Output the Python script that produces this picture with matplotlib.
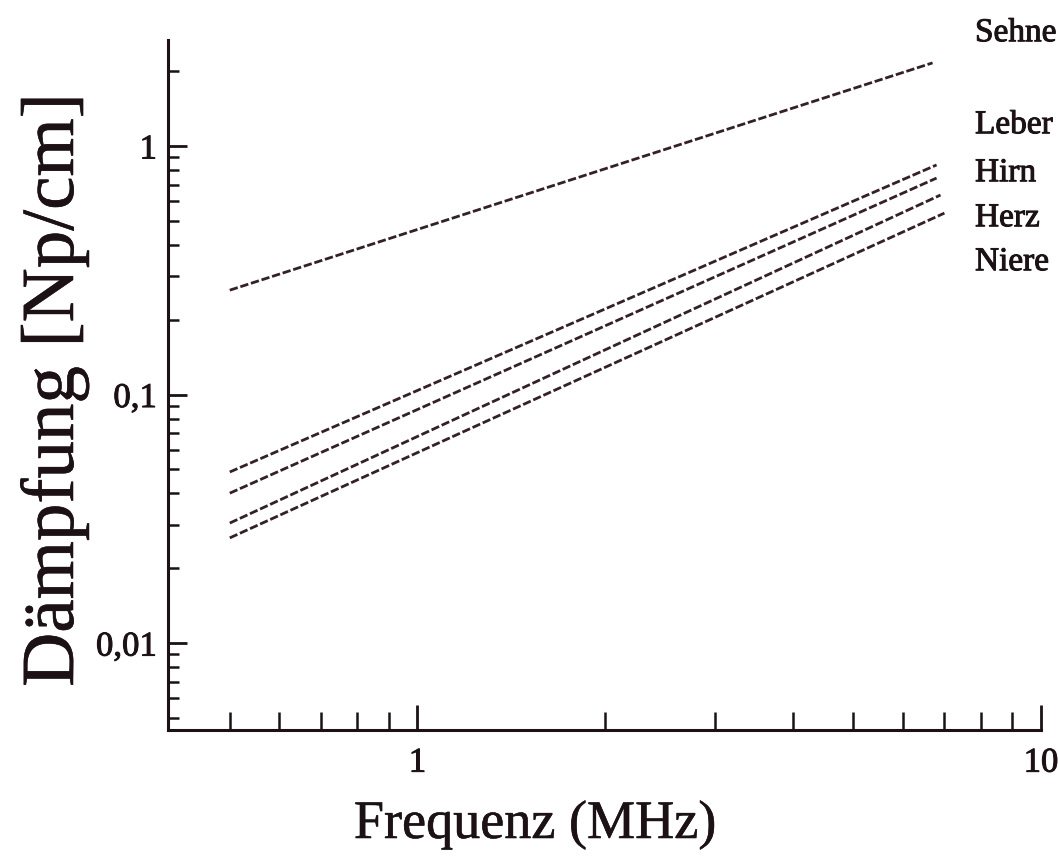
import matplotlib
matplotlib.use("Agg")
import matplotlib.pyplot as plt
import matplotlib.patheffects as pe
from matplotlib.ticker import FixedLocator, NullFormatter

plt.rcParams['font.family'] = ['Liberation Serif', 'DejaVu Serif']

# Data: frequency in MHz, attenuation in Np/cm
tissues = ["Sehne", "Leber", "Hirn", "Herz", "Niere"]
freq_start = [0.5, 0.5, 0.5, 0.5, 0.5]
freq_end = [6.7, 6.8, 6.8, 6.9, 7.0]
att_start = [0.263, 0.0488, 0.0401, 0.0304, 0.0265]
att_end = [2.16, 0.839, 0.743, 0.635, 0.537]

x_major = [1, 10]
x_major_labels = ["1", "10"]
x_minor = [0.5, 0.6, 0.7, 0.8, 0.9, 2, 3, 4, 5, 6, 7, 8, 9]
y_major = [0.01, 0.1, 1]
y_major_labels = ["0,01", "0,1", "1"]
y_minor = [0.005, 0.006, 0.007, 0.008, 0.009,
           0.02, 0.03, 0.04, 0.05, 0.06, 0.07, 0.08, 0.09,
           0.2, 0.3, 0.4, 0.5, 0.6, 0.7, 0.8, 0.9, 2]

ink = '#1c1216'
line_col = '#34202a'
heavy = [pe.withStroke(linewidth=0.7, foreground=ink)]

fig = plt.figure(figsize=(10.58, 8.57), dpi=100)
ax = fig.add_axes([168/1058, 1 - 730/857, (1041-168)/1058, (730-40)/857])
ax.set_xscale('log')
ax.set_yscale('log')

for i, name in enumerate(tissues):
    ax.plot([freq_start[i], freq_end[i]], [att_start[i], att_end[i]],
            color=line_col, lw=2.0, linestyle=(0, (3, 1.0)))

ax.set_xlim(0.398, 10.0)
ax.set_ylim(0.00447, 2.67)

for s in ['top', 'right']:
    ax.spines[s].set_visible(False)
for s in ['left', 'bottom']:
    ax.spines[s].set_linewidth(2.2)
    ax.spines[s].set_color(ink)

ax.xaxis.set_major_locator(FixedLocator(x_major))
ax.xaxis.set_minor_locator(FixedLocator(x_minor))
ax.set_xticklabels(x_major_labels)
ax.xaxis.set_minor_formatter(NullFormatter())
ax.yaxis.set_major_locator(FixedLocator(y_major))
ax.yaxis.set_minor_locator(FixedLocator(y_minor))
ax.set_yticklabels(y_major_labels)
ax.yaxis.set_minor_formatter(NullFormatter())

ax.tick_params(axis='x', which='major', direction='in', length=18, width=2.0,
               color=ink, labelsize=25, pad=12, labelcolor=ink)
ax.tick_params(axis='x', which='minor', direction='in', length=13, width=1.8, color=ink)
ax.tick_params(axis='y', which='major', direction='in', length=14, width=2.0,
               color=ink, labelsize=25, pad=8, labelcolor=ink)
ax.tick_params(axis='y', which='minor', direction='in', length=8, width=1.8, color=ink)
for lab in ax.get_xticklabels() + ax.get_yticklabels():
    lab.set_path_effects(heavy)

fig.text(535/1058, 1 - 838/857, "Frequenz (MHz)", fontsize=39, ha='center', va='baseline',
         color=ink, path_effects=[pe.withStroke(linewidth=0.4, foreground=ink)])
fig.text(55/1058, 1 - 390/857, "Dämpfung [Np/cm]", fontsize=54, ha='center', va='center',
         rotation=90, color=ink, path_effects=[pe.withStroke(linewidth=0.4, foreground=ink)])

label_y = [33, 125, 173, 218, 262]
for name, yy in zip(tissues, label_y):
    fig.text(975/1058, 1 - yy/857, name, fontsize=24, ha='left', va='center', color=ink,
             path_effects=heavy)

fig.savefig("out.png", dpi=100, facecolor='white')
